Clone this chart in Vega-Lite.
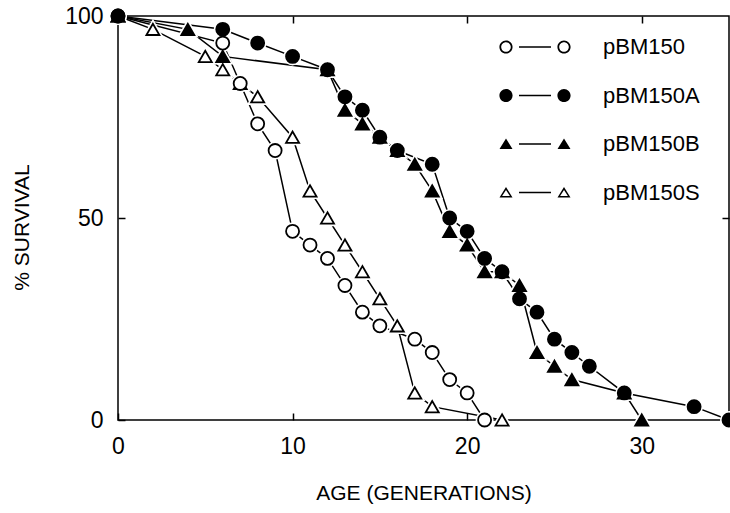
{
  "$schema": "https://vega.github.io/schema/vega-lite/v6.json",
  "width": 611,
  "height": 404,
  "autosize": "none",
  "padding": {"left": 118, "top": 16, "right": 1, "bottom": 93},
  "background": "white",
  "config": {
    "view": {"stroke": "black", "strokeWidth": 1.5},
    "font": "Liberation Sans",
    "axis": {"labelColor": "black", "titleColor": "black", "tickColor": "black", "grid": false, "domain": false, "titleFontWeight": "normal", "labelFlush": false, "labelOverlap": false}
  },
  "data": {
    "values": [
      {"series": "pBM150S", "age": 0, "survival": 100},
      {"series": "pBM150S", "age": 2, "survival": 96.7},
      {"series": "pBM150S", "age": 5, "survival": 90},
      {"series": "pBM150S", "age": 6, "survival": 86.7},
      {"series": "pBM150S", "age": 7, "survival": 83.3},
      {"series": "pBM150S", "age": 8, "survival": 80},
      {"series": "pBM150S", "age": 10, "survival": 70},
      {"series": "pBM150S", "age": 11, "survival": 56.7},
      {"series": "pBM150S", "age": 12, "survival": 50},
      {"series": "pBM150S", "age": 13, "survival": 43.3},
      {"series": "pBM150S", "age": 14, "survival": 36.7},
      {"series": "pBM150S", "age": 15, "survival": 30},
      {"series": "pBM150S", "age": 16, "survival": 23.3},
      {"series": "pBM150S", "age": 17, "survival": 6.7},
      {"series": "pBM150S", "age": 18, "survival": 3.3},
      {"series": "pBM150S", "age": 22, "survival": 0},
      {"series": "pBM150", "age": 0, "survival": 100},
      {"series": "pBM150", "age": 6, "survival": 93.3},
      {"series": "pBM150", "age": 7, "survival": 83.3},
      {"series": "pBM150", "age": 8, "survival": 73.3},
      {"series": "pBM150", "age": 9, "survival": 66.7},
      {"series": "pBM150", "age": 10, "survival": 46.7},
      {"series": "pBM150", "age": 11, "survival": 43.3},
      {"series": "pBM150", "age": 12, "survival": 40},
      {"series": "pBM150", "age": 13, "survival": 33.3},
      {"series": "pBM150", "age": 14, "survival": 26.7},
      {"series": "pBM150", "age": 15, "survival": 23.3},
      {"series": "pBM150", "age": 17, "survival": 20},
      {"series": "pBM150", "age": 18, "survival": 16.7},
      {"series": "pBM150", "age": 19, "survival": 10},
      {"series": "pBM150", "age": 20, "survival": 6.7},
      {"series": "pBM150", "age": 21, "survival": 0},
      {"series": "pBM150B", "age": 0, "survival": 100},
      {"series": "pBM150B", "age": 4, "survival": 96.7},
      {"series": "pBM150B", "age": 6, "survival": 90},
      {"series": "pBM150B", "age": 12, "survival": 86.7},
      {"series": "pBM150B", "age": 13, "survival": 76.7},
      {"series": "pBM150B", "age": 14, "survival": 73.3},
      {"series": "pBM150B", "age": 15, "survival": 70},
      {"series": "pBM150B", "age": 16, "survival": 66.7},
      {"series": "pBM150B", "age": 17, "survival": 63.3},
      {"series": "pBM150B", "age": 18, "survival": 56.7},
      {"series": "pBM150B", "age": 19, "survival": 46.7},
      {"series": "pBM150B", "age": 20, "survival": 43.3},
      {"series": "pBM150B", "age": 21, "survival": 36.7},
      {"series": "pBM150B", "age": 22, "survival": 36.7},
      {"series": "pBM150B", "age": 23, "survival": 33.3},
      {"series": "pBM150B", "age": 24, "survival": 16.7},
      {"series": "pBM150B", "age": 25, "survival": 13.3},
      {"series": "pBM150B", "age": 26, "survival": 10},
      {"series": "pBM150B", "age": 29, "survival": 6.7},
      {"series": "pBM150B", "age": 30, "survival": 0},
      {"series": "pBM150A", "age": 0, "survival": 100},
      {"series": "pBM150A", "age": 6, "survival": 96.7},
      {"series": "pBM150A", "age": 8, "survival": 93.3},
      {"series": "pBM150A", "age": 10, "survival": 90},
      {"series": "pBM150A", "age": 12, "survival": 86.7},
      {"series": "pBM150A", "age": 13, "survival": 80},
      {"series": "pBM150A", "age": 14, "survival": 76.7},
      {"series": "pBM150A", "age": 15, "survival": 70},
      {"series": "pBM150A", "age": 16, "survival": 66.7},
      {"series": "pBM150A", "age": 18, "survival": 63.3},
      {"series": "pBM150A", "age": 19, "survival": 50},
      {"series": "pBM150A", "age": 20, "survival": 46.7},
      {"series": "pBM150A", "age": 21, "survival": 40},
      {"series": "pBM150A", "age": 22, "survival": 36.7},
      {"series": "pBM150A", "age": 23, "survival": 30},
      {"series": "pBM150A", "age": 24, "survival": 26.7},
      {"series": "pBM150A", "age": 25, "survival": 20},
      {"series": "pBM150A", "age": 26, "survival": 16.7},
      {"series": "pBM150A", "age": 27, "survival": 13.3},
      {"series": "pBM150A", "age": 29, "survival": 6.7},
      {"series": "pBM150A", "age": 33, "survival": 3.3},
      {"series": "pBM150A", "age": 35, "survival": 0}
    ]
  },
  "resolve": {
    "scale": {"shape": "independent", "fill": "independent"},
    "axis": {"x": "independent", "y": "independent"}
  },
  "layer": [
    {
      "mark": {"type": "line", "color": "black", "strokeWidth": 1.5},
      "encoding": {
        "x": {
          "field": "age", "type": "quantitative",
          "scale": {"domain": [0, 35], "nice": false, "zero": false},
          "axis": {"orient": "bottom", "values": [0, 10, 20, 30], "tickSize": -7, "tickWidth": 1.5, "labelFontSize": 23, "labelPadding": 22, "title": "AGE (GENERATIONS)", "titleFontSize": 21, "titlePadding": 24}
        },
        "y": {
          "field": "survival", "type": "quantitative",
          "scale": {"domain": [0, 100], "nice": false},
          "axis": {"orient": "left", "values": [0, 50, 100], "tickSize": -7, "tickWidth": 1.5, "labelFontSize": 23, "labelPadding": 22, "title": "% SURVIVAL", "titleFontSize": 21, "titlePadding": 32, "titleY": 211}
        },
        "detail": {"field": "series"},
        "order": {"field": "age"}
      }
    },
    {
      "mark": {"type": "point", "filled": true, "fill": "white", "stroke": "white", "strokeWidth": 5, "size": 170, "opacity": 1},
      "encoding": {
        "x": {"field": "age", "type": "quantitative", "axis": null},
        "y": {"field": "survival", "type": "quantitative", "axis": null},
        "shape": {"field": "series", "type": "nominal", "legend": null, "scale": {"domain": ["pBM150", "pBM150A", "pBM150B", "pBM150S"], "range": ["circle", "circle", "triangle-up", "triangle-up"]}}
      }
    },
    {
      "mark": {"type": "point", "filled": true, "stroke": "black", "strokeWidth": 1.8, "size": 170, "opacity": 1},
      "encoding": {
        "x": {"field": "age", "type": "quantitative", "axis": null},
        "y": {"field": "survival", "type": "quantitative", "axis": null},
        "shape": {"field": "series", "type": "nominal", "legend": null, "scale": {"domain": ["pBM150", "pBM150A", "pBM150B", "pBM150S"], "range": ["circle", "circle", "triangle-up", "triangle-up"]}},
        "fill": {"field": "series", "type": "nominal", "legend": null, "scale": {"domain": ["pBM150", "pBM150A", "pBM150B", "pBM150S"], "range": ["white", "black", "black", "white"]}}
      }
    },
    {
      "transform": [{"filter": "datum.age < 0"}],
      "mark": {"type": "point", "filled": true, "color": "black", "opacity": 1},
      "encoding": {
        "x": {"field": "age", "type": "quantitative", "axis": null},
        "y": {"field": "survival", "type": "quantitative", "axis": null},
        "shape": {
          "field": "series", "type": "nominal",
          "scale": {
            "domain": ["pBM150", "pBM150A", "pBM150B", "pBM150S"],
            "range": [
              "M0.66 0 A0.66 0.66 0 1 1 -0.66 0 A0.66 0.66 0 1 1 0.66 0 Z M0.48 0 A0.48 0.48 0 1 0 -0.48 0 A0.48 0.48 0 1 0 0.48 0 Z M1.3 -0.07 L4.5 -0.07 L4.5 0.07 L1.3 0.07 Z M6.46 0 A0.66 0.66 0 1 1 5.14 0 A0.66 0.66 0 1 1 6.46 0 Z M6.28 0 A0.48 0.48 0 1 0 5.32 0 A0.48 0.48 0 1 0 6.28 0 Z",
              "M0.66 0 A0.66 0.66 0 1 1 -0.66 0 A0.66 0.66 0 1 1 0.66 0 Z M1.3 -0.07 L4.5 -0.07 L4.5 0.07 L1.3 0.07 Z M6.46 0 A0.66 0.66 0 1 1 5.14 0 A0.66 0.66 0 1 1 6.46 0 Z",
              "M0 -0.55 L0.65 0.5 L-0.65 0.5 Z M1.3 -0.07 L4.5 -0.07 L4.5 0.07 L1.3 0.07 Z M5.8 -0.55 L6.45 0.5 L5.15 0.5 Z",
              "M0 -0.55 L0.65 0.5 L-0.65 0.5 Z M0 -0.25 L-0.39 0.35 L0.39 0.35 Z M1.3 -0.07 L4.5 -0.07 L4.5 0.07 L1.3 0.07 Z M5.8 -0.55 L6.45 0.5 L5.15 0.5 Z M5.8 -0.25 L5.41 0.35 L6.19 0.35 Z"
            ]
          },
          "legend": {
            "title": null, "orient": "none", "legendX": 377, "legendY": 20, "padding": 0,
            "symbolSize": 400, "symbolFillColor": "black", "symbolStrokeWidth": 0, "symbolOpacity": 1,
            "labelOffset": 86, "labelFontSize": 22, "labelFont": "Liberation Sans", "labelColor": "black", "labelLimit": 0,
            "rowPadding": 26.5
          }
        }
      }
    },
    {
      "mark": {"type": "point", "opacity": 0},
      "encoding": {
        "x": {"field": "age", "type": "quantitative", "axis": {"orient": "top", "values": [10, 20, 30], "tickSize": -7, "tickWidth": 1.5, "labels": false, "title": null}},
        "y": {"field": "survival", "type": "quantitative", "axis": {"orient": "right", "values": [50], "tickSize": -7, "tickWidth": 1.5, "labels": false, "title": null}}
      }
    }
  ]
}
